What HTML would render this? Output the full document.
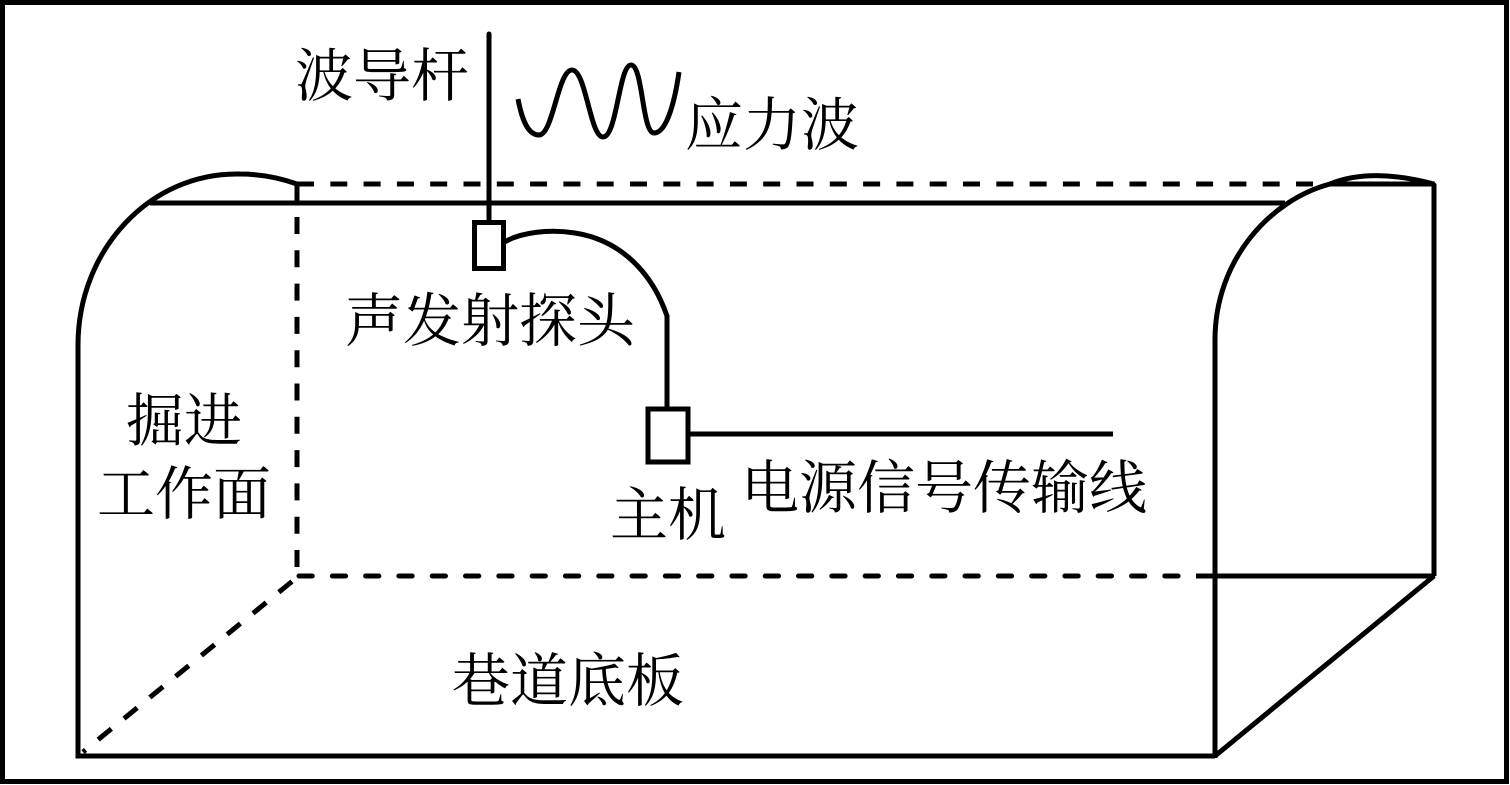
<!DOCTYPE html>
<html><head><meta charset="utf-8"><style>
html,body{margin:0;padding:0;background:#fff}
svg{display:block}
text{font-family:"Liberation Serif","Noto Serif CJK SC",serif;font-size:58px;fill:#000}
</style></head><body>
<svg width="1510" height="785" viewBox="0 0 1510 785" xmlns="http://www.w3.org/2000/svg">
<rect x="2.5" y="2.5" width="1504" height="779" fill="#fff" stroke="#000" stroke-width="5"/>
<g fill="none" stroke="#000" stroke-width="5">
<path d="M297 184H1330" stroke-dasharray="17 16.3"/>
<path d="M297 217V568" stroke-dasharray="17 16.3"/>
<path d="M297 184V203"/>
<path d="M299 576H1196" stroke-dasharray="13.300 20" stroke-linecap="round"/>
<path d="M292 581.500L83 752" stroke-dasharray="17 16.3"/>
<path d="M150 203H1285"/>
<path d="M78 756V345C78 250 150 172 240 174C262 174 280 178 297 184"/>
<path d="M75.500 756H1215"/>
<path d="M1215 758V340C1215 260 1270 200 1330 184C1362 171 1400 175 1434 184"/>
<path d="M1330 184H1434V576" stroke-linejoin="bevel"/>
<path d="M1196 576H1434L1215 756" stroke-linejoin="bevel"/>
<path d="M489 34V222" stroke-linecap="round"/>
<rect x="474.500" y="222.500" width="29" height="46"/>
<path d="M503 243C520 232 550 229 575 233C620 240 652 272 667 316V408"/>
<rect x="648" y="409" width="40" height="53"/>
<path d="M688 434H1113"/>
<path d="M518 99C522 120 528 135 539 135C553 135 558 70 572 70C586 70 590 137 603 137C617 137 619 65 631 65C643 65 642 133 654 133C667 133 675 100 679 72"/>
</g>
<text x="295" y="96">波导杆</text>
<text x="685" y="145">应力波</text>
<text x="345" y="341">声发射探头</text>
<text x="126" y="441">掘进</text>
<text x="97" y="514">工作面</text>
<text x="610" y="535">主机</text>
<text x="741" y="508">电源信号传输线</text>
<text x="452" y="701">巷道底板</text>
</svg>
</body></html>
